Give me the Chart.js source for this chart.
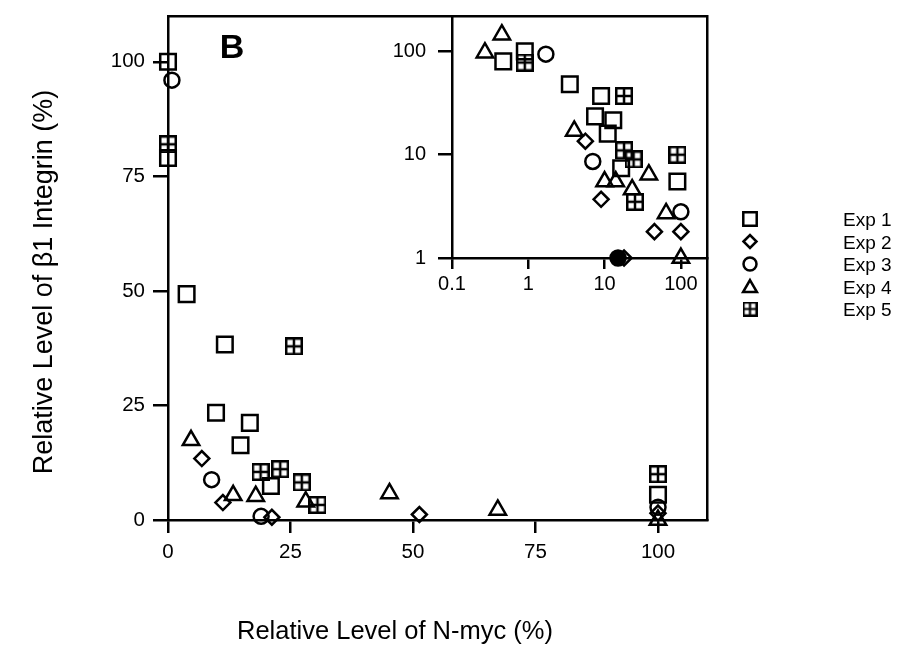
<!DOCTYPE html>
<html><head><meta charset="utf-8">
<script src="https://cdn.jsdelivr.net/npm/chart.js@4.4.1/dist/chart.umd.min.js"></script>
<style>
html,body{margin:0;padding:0;background:#fff;}
#wrap{position:relative;width:912px;height:653px;overflow:hidden;}
#wrap canvas{position:absolute;left:0;top:0;}
</style></head><body>
<div id="wrap"><canvas id="main" width="912" height="653"></canvas><canvas id="inset" width="912" height="653"></canvas></div>
<script>
const FONT = '"Liberation Sans", Arial, Helvetica, sans-serif';

// ---- labels ----
const seriesNames = ['Exp 1', 'Exp 2', 'Exp 3', 'Exp 4', 'Exp 5'];
const xTitle = 'Relative Level of N-myc (%)';
const yTitle = 'Relative Level of \u03B21 Integrin (%)';
const panelLabel = 'B';

// ---- main (linear) axes ----
const mainXTicks = [0, 25, 50, 75, 100];
const mainYTicks = [0, 25, 50, 75, 100];

// ---- inset (log-log) axes ----
const insetXTicks = [0.1, 1, 10, 100];
const insetXLabels = ['0.1', '1', '10', '100'];
const insetYTicks = [1, 10, 100];
const insetYLabels = ['1', '10', '100'];

// ---- main panel data: [N-myc %, beta1 integrin %] ----
const exp1Main = [[0,100],[0,79],[3.8,49.3],[11.6,38.3],[9.8,23.4],[16.7,21.2],[14.8,16.3],[21,7.4],[100,5.5]];
const exp2Main = [[6.9,13.4],[11.2,3.8],[21.2,0.6],[51.3,1.2],[100,1.5]];
const exp3Main = [[0.8,96],[8.9,8.8],[19,0.8],[100,2.8]];
const exp4Main = [[4.7,17.4],[13.3,5.4],[17.9,5.2],[28.1,4],[45.2,5.8],[67.3,2.2],[100,0]];
const exp5Main = [[0,82],[25.7,37.9],[18.9,10.5],[22.9,11.1],[27.3,8.2],[30.5,3.3],[100,10]];

// ---- inset data (log-log) ----
const exp1Inset = [[0.47,80],[0.9,100],[3.5,48],[9,37],[7.5,23.5],[13,21.5],[11,16],[16.5,7.4],[90,5.5]];
const exp2Inset = [[5.6,13.5],[9,3.7],[18,1],[45,1.8],[100,1.8]];
const exp3Inset = [[1.7,94],[7,8.6],[15,1],[100,2.8]];
const exp4Inset = [[0.27,97],[0.45,145],[4,17],[10,5.5],[14,5.5],[23,4.6],[38,6.4],[64,2.7],[100,1]];
const exp5Inset = [[0.9,78],[18,37],[18,11],[24,9],[25,3.5],[90,10]];

Chart.defaults.font.family = FONT;
Chart.defaults.color = '#000';

const LW = 2.5;
function makeCrossSquare(size, lw) {
  const c = document.createElement('canvas');
  c.width = c.height = size;
  const g = c.getContext('2d');
  g.strokeStyle = '#000'; g.lineWidth = lw;
  const h = lw / 2;
  g.strokeRect(h, h, size - lw, size - lw);
  g.beginPath();
  g.moveTo(size / 2, h); g.lineTo(size / 2, size - h);
  g.moveTo(h, size / 2); g.lineTo(size - h, size / 2);
  g.stroke();
  return c;
}
const crossSq = makeCrossSquare(18, LW);
const crossSqSmall = makeCrossSquare(15, 2.2);

const styles = [
  {pointStyle: 'rect', radius: 11},
  {pointStyle: 'rectRot', radius: 7.5},
  {pointStyle: 'circle', radius: 7.5},
  {pointStyle: 'triangle', radius: 9.5},
  {pointStyle: crossSq, radius: 9}
];
const legendStyles = [
  {pointStyle: 'rect', radius: 9.5},
  {pointStyle: 'rectRot', radius: 6.5},
  {pointStyle: 'circle', radius: 6.5},
  {pointStyle: 'triangle', radius: 8},
  {pointStyle: crossSqSmall, radius: 8}
];

function toXY(arr) { return arr.map(p => ({x: p[0], y: p[1]})); }
function makeDatasets(list) {
  return list.map((arr, i) => ({
    label: seriesNames[i],
    data: toXY(arr),
    pointStyle: styles[i].pointStyle,
    pointRadius: styles[i].radius,
    pointBorderWidth: LW,
    pointBorderColor: '#000',
    pointBackgroundColor: 'rgba(0,0,0,0)',
    showLine: false,
    clip: false
  }));
}

function axisCommon(tickLen) {
  return {
    grid: {display: true, drawOnChartArea: false, drawTicks: true, tickLength: tickLen, color: '#000', lineWidth: LW},
    border: {display: true, color: '#000', width: LW}
  };
}
function frameAxis(pos, min, max) {
  return {
    type: 'linear', position: pos, min: min, max: max, display: true,
    ticks: {display: false},
    grid: {display: false},
    border: {display: true, color: '#000', width: LW},
    afterFit: s => {
      if (pos === 'top' || pos === 'bottom') s.height = 0; else s.width = 0;
      s.paddingTop = s.paddingBottom = s.paddingLeft = s.paddingRight = 0;
    }
  };
}
function fixH(h) { return s => { s.height = h; s.paddingLeft = 0; s.paddingRight = 0; }; }
function fixW(w) { return s => { s.width = w; s.paddingTop = 0; s.paddingBottom = 0; }; }

const decorPlugin = {
  id: 'decor',
  afterDraw(chart) {
    const ctx = chart.ctx;
    ctx.save();
    ctx.fillStyle = '#000';
    ctx.textAlign = 'center';
    ctx.textBaseline = 'middle';
    // axis titles
    ctx.font = '25.5px ' + FONT;
    ctx.fillText(xTitle, 395, 632);
    ctx.save();
    ctx.translate(45, 282);
    ctx.rotate(-Math.PI / 2);
    ctx.font = '27px ' + FONT;
    ctx.fillText(yTitle, 0, 0);
    ctx.restore();
    // panel letter
    ctx.font = 'bold 34px ' + FONT;
    ctx.fillText(panelLabel, 232, 49);
    // legend
    const lx = 750, tx = 843, y0 = 219, dy = 22.5;
    ctx.font = '19px ' + FONT;
    ctx.textAlign = 'left';
    seriesNames.forEach((name, i) => {
      const y = y0 + i * dy;
      ctx.strokeStyle = '#000';
      ctx.fillStyle = 'rgba(0,0,0,0)';
      ctx.lineWidth = LW;
      Chart.helpers.drawPoint(ctx, {pointStyle: legendStyles[i].pointStyle, radius: legendStyles[i].radius, rotation: 0, borderWidth: LW}, lx, y + (i === 3 ? 1.5 : 0));
      ctx.fillStyle = '#000';
      ctx.fillText(name, tx, y + 2);
    });
    ctx.restore();
  }
};

new Chart(document.getElementById('main'), {
  type: 'scatter',
  data: {datasets: makeDatasets([exp1Main, exp2Main, exp3Main, exp4Main, exp5Main])},
  options: {
    responsive: false, animation: false, devicePixelRatio: 1,
    events: [],
    layout: {padding: {top: 16, right: 205, left: 0, bottom: 0}},
    plugins: {legend: {display: false}, tooltip: {enabled: false}},
    scales: {
      x: Object.assign({
        type: 'linear', position: 'bottom', min: 0, max: 110,
        afterBuildTicks: s => { s.ticks = mainXTicks.map(v => ({value: v})); },
        afterFit: fixH(653 - 520),
        ticks: {color: '#000', font: {size: 20.5}, padding: 7, maxRotation: 0, autoSkip: false}
      }, axisCommon(13)),
      y: Object.assign({
        type: 'linear', position: 'left', min: 0, max: 110,
        afterBuildTicks: s => { s.ticks = mainYTicks.map(v => ({value: v})); },
        afterFit: fixW(168),
        ticks: {color: '#000', font: {size: 20.5}, padding: 8, autoSkip: false}
      }, axisCommon(15)),
      x2: frameAxis('top', 0, 110),
      y2: frameAxis('right', 0, 110)
    }
  },
  plugins: [decorPlugin]
});

const insetSets = makeDatasets([exp1Inset, exp2Inset, exp3Inset, exp4Inset, exp5Inset]);
insetSets[2].pointBackgroundColor = c => (c.raw && c.raw.y <= 1) ? '#000' : 'rgba(0,0,0,0)';

new Chart(document.getElementById('inset'), {
  type: 'scatter',
  data: {datasets: insetSets},
  options: {
    responsive: false, animation: false, devicePixelRatio: 1,
    events: [],
    layout: {padding: {top: 16, right: 205, left: 0, bottom: 0}},
    plugins: {legend: {display: false}, tooltip: {enabled: false}},
    scales: {
      x: Object.assign({
        type: 'logarithmic', position: 'bottom', min: 0.1, max: 220,
        afterBuildTicks: s => { s.ticks = insetXTicks.map(v => ({value: v})); },
        afterFit: fixH(653 - 258),
        ticks: {color: '#000', font: {size: 20}, padding: 3, maxRotation: 0, autoSkip: false,
                callback: (v, i) => insetXLabels[i]}
      }, axisCommon(11)),
      y: Object.assign({
        type: 'logarithmic', position: 'left', min: 1, max: 220,
        afterBuildTicks: s => { s.ticks = insetYTicks.map(v => ({value: v})); },
        afterFit: fixW(452),
        ticks: {color: '#000', font: {size: 20}, padding: 12, autoSkip: false,
                callback: (v, i) => insetYLabels[i]}
      }, axisCommon(14))
    }
  }
});
</script>
</body></html>
